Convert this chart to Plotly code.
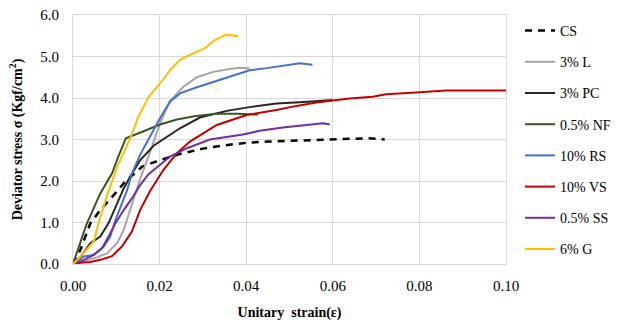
import plotly.graph_objects as go

names = ["CS", "3% L", "3% PC", "0.5% NF", "10% RS", "10% VS", "0.5% SS", "6% G"]
colors = ["#000000", "#a5a5a5", "#262626", "#375623", "#4472c4", "#c00000", "#7030a0", "#ffc000"]

cs_x = [0, 0.0017, 0.004, 0.0063, 0.0094, 0.012, 0.016, 0.02, 0.025, 0.03, 0.035, 0.04, 0.045, 0.05, 0.055, 0.06, 0.065, 0.068, 0.072]
cs_y = [0, 0.34, 0.98, 1.3, 1.66, 1.98, 2.35, 2.5, 2.66, 2.78, 2.86, 2.92, 2.95, 2.97, 2.99, 3.0, 3.03, 3.03, 3.0]

l_x = [0, 0.0033, 0.0056, 0.0079, 0.0102, 0.0117, 0.0136, 0.0155, 0.0174, 0.0182, 0.0201, 0.0224, 0.0255, 0.0286, 0.0324, 0.0362, 0.0385, 0.0408]
l_y = [0, 0.1, 0.16, 0.26, 0.5, 0.82, 1.46, 2.05, 2.58, 2.83, 3.39, 3.93, 4.27, 4.5, 4.63, 4.7, 4.73, 4.71]

pc_x = [0, 0.0021, 0.004, 0.0063, 0.0082, 0.0094, 0.0105, 0.0117, 0.0132, 0.0155, 0.0186, 0.0217, 0.0247, 0.0293, 0.0355, 0.0408, 0.047, 0.0524, 0.0593, 0.06]
pc_y = [0, 0.22, 0.5, 0.66, 0.98, 1.26, 1.54, 1.82, 2.1, 2.5, 2.85, 3.07, 3.27, 3.53, 3.69, 3.78, 3.87, 3.9, 3.93, 3.95]

nf_x = [0, 0.0031, 0.0063, 0.009, 0.0105, 0.0122, 0.0163, 0.0201, 0.024, 0.028, 0.033, 0.038, 0.0428]
nf_y = [0, 0.95, 1.7, 2.18, 2.6, 3.03, 3.2, 3.36, 3.48, 3.56, 3.62, 3.62, 3.6]

rs_x = [0, 0.0025, 0.0048, 0.0071, 0.0086, 0.0098, 0.0113, 0.0125, 0.0136, 0.0155, 0.0178, 0.0201, 0.0224, 0.0247, 0.0286, 0.0301, 0.0324, 0.0362, 0.0385, 0.0408, 0.0447, 0.05, 0.0524, 0.0553]
rs_y = [0, 0.18, 0.22, 0.42, 0.66, 1.06, 1.46, 1.78, 2.18, 2.63, 3.07, 3.51, 3.91, 4.11, 4.26, 4.31, 4.39, 4.5, 4.58, 4.67, 4.72, 4.81, 4.84, 4.8]

vs_x = [0, 0.0017, 0.004, 0.0063, 0.009, 0.0113, 0.0136, 0.0155, 0.0178, 0.0209, 0.024, 0.027, 0.0332, 0.0401, 0.047, 0.0516, 0.0562, 0.06, 0.0639, 0.0692, 0.0723, 0.0792, 0.0861, 0.1]
vs_y = [0, 0.03, 0.05, 0.1, 0.19, 0.42, 0.78, 1.3, 1.76, 2.27, 2.67, 2.95, 3.35, 3.59, 3.71, 3.81, 3.89, 3.94, 3.99, 4.03, 4.09, 4.13, 4.18, 4.18]

ss_x = [0, 0.0025, 0.0048, 0.0067, 0.0082, 0.0098, 0.0117, 0.0136, 0.0155, 0.0174, 0.0224, 0.0263, 0.0316, 0.0393, 0.0431, 0.0485, 0.0539, 0.0577, 0.0593]
ss_y = [0, 0.1, 0.22, 0.38, 0.66, 0.98, 1.3, 1.58, 1.9, 2.16, 2.59, 2.79, 3.0, 3.12, 3.21, 3.29, 3.35, 3.39, 3.36]

g_x = [0, 0.0017, 0.0048, 0.0063, 0.0079, 0.009, 0.0102, 0.0132, 0.0151, 0.0175, 0.0201, 0.0224, 0.0247, 0.027, 0.0305, 0.0328, 0.0355, 0.0382]
g_y = [0, 0.18, 0.54, 1.14, 1.66, 1.98, 2.34, 3.03, 3.55, 4.03, 4.35, 4.67, 4.92, 5.04, 5.2, 5.4, 5.53, 5.49]

xs = [cs_x, l_x, pc_x, nf_x, rs_x, vs_x, ss_x, g_x]
ys = [cs_y, l_y, pc_y, nf_y, rs_y, vs_y, ss_y, g_y]

x_ticks = [0, 0.02, 0.04, 0.06, 0.08, 0.10]
x_tick_text = ["0.00", "0.02", "0.04", "0.06", "0.08", "0.10"]
y_ticks = [0, 1, 2, 3, 4, 5, 6]
y_tick_text = ["0.0", "1.0", "2.0", "3.0", "4.0", "5.0", "6.0"]

FONT = "Times New Roman, Liberation Serif, serif"

fig = go.Figure()
for i, n in enumerate(names):
    fig.add_trace(go.Scatter(
        x=xs[i], y=ys[i], mode="lines", name=n, legendgroup=n,
        line=dict(color=colors[i], width=2.5 if i == 0 else 2, dash="7px,6px" if i == 0 else "solid"),
    ))

fig.update_layout(
    width=627, height=326,
    margin=dict(l=73, r=120, t=15, b=62),
    paper_bgcolor="white", plot_bgcolor="white",
    font=dict(family=FONT, size=14, color="#000000"),
    showlegend=True,
    legend=dict(x=1.03, y=1.0, xanchor="left", yanchor="top", tracegroupgap=10,
                maxheight=326,
                font=dict(family=FONT, size=14, color="#000000"), bgcolor="rgba(0,0,0,0)"),
    xaxis=dict(range=[0, 0.1], tickvals=x_ticks, ticktext=x_tick_text, automargin=False,
               showgrid=True, gridcolor="#d9d9d9", gridwidth=1,
               showline=True, linecolor="#d9d9d9", mirror=True, zeroline=False,
               ticks="", ticklabelstandoff=8, tickfont=dict(family=FONT, size=15, color="#000000"),
               title=dict(text="<b>Unitary  strain(ε)</b>", font=dict(family=FONT, size=14), standoff=14)),
    yaxis=dict(range=[0, 6], tickvals=y_ticks, ticktext=y_tick_text, automargin=False,
               showgrid=True, gridcolor="#d9d9d9", gridwidth=1,
               showline=True, linecolor="#d9d9d9", mirror=True, zeroline=False,
               ticks="", ticklabelstandoff=10, tickfont=dict(family=FONT, size=15, color="#000000"),
               title=dict(text="<b>Deviator stress σ (Kgf/cm<sup>2</sup>)</b>", font=dict(family=FONT, size=14), standoff=14)),
)

fig.write_html("out.html")
